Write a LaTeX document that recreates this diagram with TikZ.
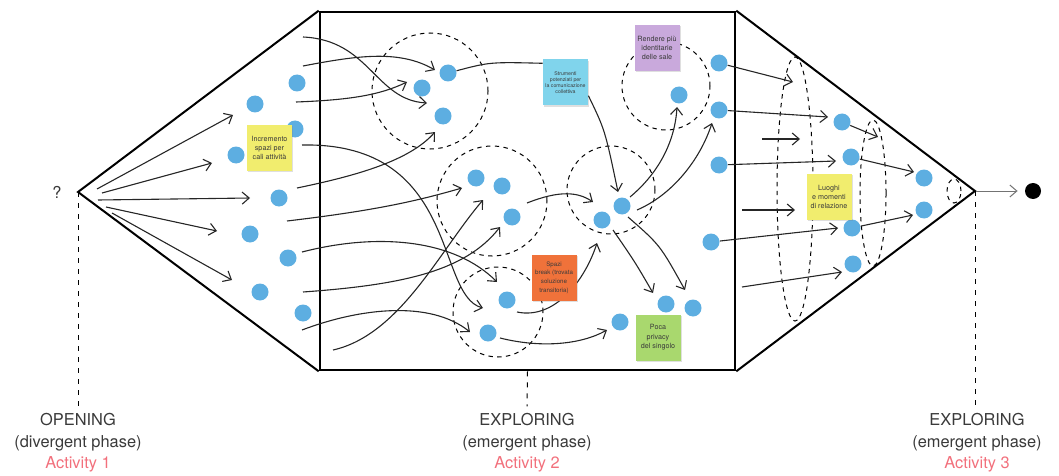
\documentclass[tikz,border=0pt]{standalone}
\usepackage{fontspec}
\setmainfont{TeX Gyre Heros}
\usetikzlibrary{arrows.meta,calc,shadows}
\definecolor{dotblue}{HTML}{5DAEE1}
\definecolor{actred}{HTML}{F2707C}
\definecolor{txt}{HTML}{3A3A3A}
\definecolor{pyellow}{HTML}{F1ED6E}
\definecolor{pcyan}{HTML}{80D4EC}
\definecolor{ppurple}{HTML}{C9A9DC}
\definecolor{porange}{HTML}{F0723A}
\definecolor{pgreen}{HTML}{A9D86E}

\begin{document}
\begin{tikzpicture}[x=0.5pt,y=-0.5pt,
  dot/.style={circle,fill=dotblue,inner sep=0pt,minimum size=8.5pt},
  note/.style={fill=#1,minimum width=22.5pt,minimum height=23pt,inner sep=0.5pt,align=center,text=txt,
    font=\fontsize{3.6}{4.7}\selectfont,drop shadow={shadow xshift=0.6pt,shadow yshift=-0.6pt,opacity=0.25}},
  arw/.style={->,>={Straight Barb[length=3.5pt,width=6pt]},line width=0.55pt,draw=black!85},
  frame/.style={line width=1pt},
  ring/.style={dash pattern=on 2.2pt off 2.2pt,line width=0.5pt},
  guide/.style={dash pattern=on 2.5pt off 3pt,line width=0.5pt},
  phase/.style={align=center,text=txt,font=\fontsize{8.2}{10.8}\selectfont}]
\useasboundingbox (0,0) rectangle (1059,476);

% frame
\node[draw,line width=1.3pt,minimum width=207.5pt,minimum height=179pt,inner sep=0pt] (box) at (527.5,191) {};
\coordinate (apexL) at (78,192);
\coordinate (apexR) at (975,191);
\draw[frame] (box.north west) -- (apexL) -- (box.south west);
\draw[frame] (box.north east) -- (apexR) -- (box.south east);
\node[text=txt,font=\fontsize{8.2}{10}\selectfont] (qm) at (57,192) {?};

% groupings
\draw[ring] (430,91) circle[radius=29pt];
\draw[ring] (492,201) circle[radius=27.5pt];
\draw[ring] (611,190) circle[radius=22pt];
\draw[ring] (666,86) circle[radius=22pt];
\draw[ring] (498,312) circle[radius=22.5pt];
\draw[ring] (795,189) ellipse[x radius=9pt,y radius=66pt];
\draw[ring] (873,193) ellipse[x radius=6.5pt,y radius=36.5pt];
\draw[ring] (954,191) ellipse[x radius=3.5pt,y radius=6pt];

% ideas
\foreach \n/\x/\y in {a1/297/83,a2/255/104,a3/295/129,a4/236/155,a5/279/198,a6/250/234,a7/288/258,a8/260/292,a9/303/313,
  b1/448/73,b2/422/88,b3/443/116,b4/476/178,b5/502/186,b6/512/217,b7/507/300,b8/488/333,b9/602/220,b10/622/206,
  b11/679/95,b12/719/63,b13/719/110,b14/719/165,b15/711/242,b16/666/304,b17/693/308,b18/620/322,
  c1/842/122,c2/851/157,c3/924/178,c4/924/210,c5/852/228,c6/853/264}
  \node[dot] (\n) at (\x,\y) {};

\foreach \n/\x/\y in {l1s/97/189,l1e/233/115,l2s/102/193,l2e/212/163,l3s/98/200,l3e/250/198,l4s/106/207,l4e/217/231,l5s/112/213,l5e/232/280,
  sa/303/37,ea/427/103,sb/303/66,eb/435/70,sc/296/102,ec/407/82,sd/297/188,ed/435/132,se/302/145,ee/483/308,
  sf/287/221,ef/462/188,sg/302/252,eg/497/282,sh/303/292,eh/500/227,si/302/330,ei/470/332,sj/333/350,ej/483/200,
  el/618/192,sm/527/203,em/593/202,sn/517/312,en/597/243,so/500/338,eo/607/330,sp/630/197,ep/677/107,
  sq/637/210,eq/712/123,sr/613/230,er/653/293,ss/628/217,es/685/290,
  r1e/793/82,r2e/828/117,f1s/762/139,f1e/800/139,r3e/836/161,f2s/742/210,f2e/795/210,r4e/838/228,f3s/742/287,f3e/842/272,
  r5e/878/137,r6e/914/172,r7e/913/215}
  \coordinate (\n) at (\x,\y);

% opening
\foreach \i in {1,...,5}
  \draw[arw] (l\i s) -- (l\i e);

% exploring
\draw[arw] (sa) .. controls (370,40) and (375,100) .. (ea);
\draw[arw] (sb) .. controls (360,55) and (400,50) .. (eb);
\draw[arw] (sc) .. controls (350,100) and (380,95) .. (ec);
\draw[arw] (sd) .. controls (360,175) and (410,160) .. (ed);
\draw[arw] (se) .. controls (460,142) and (435,295) .. (ee);
\draw[arw] (sf) .. controls (380,210) and (420,200) .. (ef);
\draw[arw] (sg) .. controls (380,232) and (455,240) .. (eg);
\draw[arw] (sh) .. controls (400,285) and (465,272) .. (eh);
\draw[arw] (si) .. controls (360,308) and (430,300) .. (ei);
\draw[arw] (sj) .. controls (400,335) and (440,250) .. (ej);
\draw[arw] (sm) .. controls (560,190) and (578,192) .. (em);
\draw[arw] (sn) .. controls (555,320) and (585,280) .. (en);
\draw[arw] (so) .. controls (540,348) and (580,345) .. (eo);
\draw[arw] (sp) .. controls (660,172) and (675,140) .. (ep);
\draw[arw] (sq) .. controls (672,195) and (700,160) .. (eq);
\draw[arw] (sr) .. controls (635,262) .. (er);
\draw[arw] (ss) .. controls (660,245) .. (es);

% converging
\draw[arw] (b12) -- (r1e);
\draw[arw] (b13) -- (r2e);
\draw[arw] (f1s) -- (f1e);
\draw[arw] (b14) -- (r3e);
\draw[arw] (f2s) -- (f2e);
\draw[arw] (b15) -- (r4e);
\draw[arw] (f3s) -- (f3e);
\draw[arw] (c1) -- (r5e);
\draw[arw] (c2) -- (r6e);
\draw[arw] (c5) -- (r7e);

% post-its
\node[note=pyellow] (n1) at (269.5,148) {Incremento\\spazi per\\cali attività};
\node[note=pcyan,font=\fontsize{2.6}{3}\selectfont] (n2) at (565.5,82.5) {Strumenti\\potenziati per\\la comunicazione\\collettiva};
\node[note=ppurple] (n3) at (657,48) {Rendere più\\identitarie\\delle sale};
\node[note=porange,font=\fontsize{3.1}{4.3}\selectfont] (n4) at (554,277.5) {Spazi\\break (trovata\\soluzione\\transitoria)};
\node[note=pgreen] (n5) at (658,337.5) {Poca\\privacy\\del singolo};
\node[note=pyellow] (n6) at (829,197) {Luoghi\\e momenti\\di relazione};
\draw[line width=0.55pt,draw=black!85] (b1) .. controls (490,62) .. (n2.140);
\draw[arw] (n2.-30) .. controls (605,130) .. (el);

% outcome
\node[circle,fill=black,inner sep=0pt,minimum size=8pt] (goal) at (1033,191) {};
\draw[->,>={Straight Barb[length=3.5pt,width=6pt]},draw=black!55,line width=0.5pt,shorten >=3.5pt] (apexR) -- (goal);

% phases
\node[phase] (open) at (78,443) {OPENING\\(divergent phase)\\\textcolor{actred}{Activity 1}};
\node[phase] (expl) at (527,443) {EXPLORING\\(emergent phase)\\\textcolor{actred}{Activity 2}};
\node[phase] (expr) at (977,443) {EXPLORING\\(emergent phase)\\\textcolor{actred}{Activity 3}};
\draw[guide] (apexL) -- (apexL |- open.north);
\draw[guide] (box.south) -- (expl.north);
\draw[guide] (apexR) -- (apexR |- expr.north);
\end{tikzpicture}
\end{document}
